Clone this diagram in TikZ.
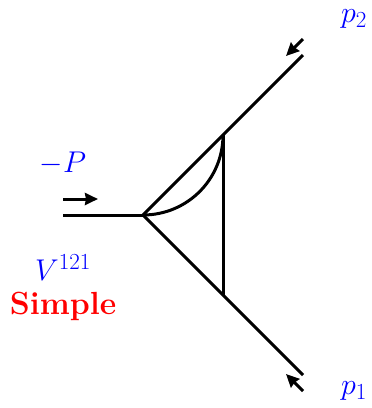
\documentclass[tikz,border=0pt]{standalone}
\usepackage{fix-cm}
\usepackage{amsmath,amssymb}
\usepackage{xcolor}
\usetikzlibrary{arrows.meta}
\DeclareMathSizes{30}{30}{23}{17}
\begin{document}
\begin{tikzpicture}[
  x=1pt, y=-1pt,
  line/.style={line width=3pt},
  arr/.style={-{Stealth[length=13pt,width=12pt,inset=1pt]}, line width=3pt},
  lab/.style={blue, inner sep=0pt, font=\fontsize{30}{36}\selectfont}
]
\useasboundingbox (0,0) rectangle (372,408);
\coordinate (in) at (63,215);
\coordinate (a) at (143,215);
\coordinate (b) at (223,135);
\coordinate (c) at (223,295);
\coordinate (p2) at (303,55);
\coordinate (p1) at (303,375);
\draw[line] (in) -- (a);
\draw[line] (a) -- (p2);
\draw[line] (a) -- (p1);
\draw[line] (b) -- (c);
\draw[line] (a) to[out=0, in=270] (b);
\coordinate (s1) at (63,199);
\coordinate (e1) at (98,199);
\coordinate (s2) at (303,39);
\coordinate (e2) at (286,56);
\coordinate (s3) at (303,391);
\coordinate (e3) at (286,374);
\draw[arr] (s1) -- (e1);
\draw[arr] (s2) -- (e2);
\draw[arr] (s3) -- (e3);
\node[lab] (mom) at (63,163) {$-P$};
\node[lab] (vert) at (63,268) {$V^{121}$};
\node[red, inner sep=0pt, font=\fontsize{32}{38}\selectfont\bfseries] (name) at (63,306) {Simple};
\node[lab] (lp2) at (354,19) {$p_2$};
\node[lab] (lp1) at (354,391) {$p_1$};
\end{tikzpicture}
\end{document}
